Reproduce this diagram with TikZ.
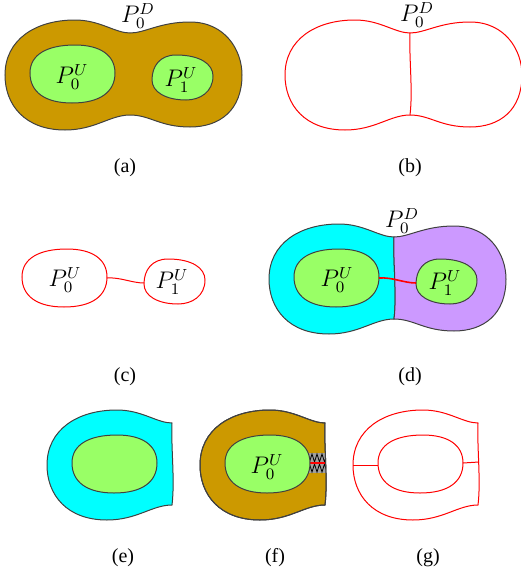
\documentclass[tikz,border=0pt]{standalone}
\usepackage{fontspec}
\setmainfont{Liberation Serif}
\usepackage{tikz}

\definecolor{brownfill}{RGB}{204,153,0}
\definecolor{greenfill}{RGB}{153,255,102}
\definecolor{cyanfill}{RGB}{0,255,255}
\definecolor{purplefill}{RGB}{204,153,255}
\definecolor{ladderfill}{RGB}{160,160,160}

% Kontur yolları (a) çerçevesinde, piksel biriminde
\newcommand{\blobpath}{(130,33) .. controls (145,33) and (160,22) .. (190,22)
  .. controls (225,22) and (242,50) .. (242,75)
  .. controls (242,110) and (220,127) .. (190,127)
  .. controls (160,127) and (150,115) .. (130,115)
  .. controls (110,115) and (95,130) .. (65,130)
  .. controls (25,130) and (5,105) .. (5,75)
  .. controls (5,40) and (35,20) .. (75,20)
  .. controls (100,20) and (115,33) .. (130,33) -- cycle}
\newcommand{\leftlobe}{(130,115)
  .. controls (110,115) and (95,130) .. (65,130)
  .. controls (25,130) and (5,105) .. (5,75)
  .. controls (5,40) and (35,20) .. (75,20)
  .. controls (100,20) and (115,33) .. (130,33)
  .. controls (129,60) and (133,90) .. (130,115) -- cycle}
\newcommand{\rightlobe}{(130,33) .. controls (145,33) and (160,22) .. (190,22)
  .. controls (225,22) and (242,50) .. (242,75)
  .. controls (242,110) and (220,127) .. (190,127)
  .. controls (160,127) and (150,115) .. (130,115)
  .. controls (133,90) and (129,60) .. (130,33) -- cycle}
\newcommand{\waistline}{(130,33) .. controls (129,60) and (133,90) .. (130,115)}
\newcommand{\ovalA}{(75,45) .. controls (100,45) and (115,55) .. (115,73)
  .. controls (115,92) and (100,103) .. (72,103)
  .. controls (45,103) and (30,92) .. (30,73)
  .. controls (30,54) and (48,45) .. (75,45) -- cycle}
\newcommand{\ovalB}{(176,55) .. controls (200,55) and (213,64) .. (213,76)
  .. controls (213,92) and (200,100) .. (186,100)
  .. controls (166,100) and (152,92) .. (152,80)
  .. controls (152,66) and (160,55) .. (176,55) -- cycle}

\begin{document}
\begin{tikzpicture}[x=0.5pt,y=-0.5pt,every node/.style={font=\normalsize},
    edge/.style={draw=black!75,line width=0.5pt},
    redline/.style={draw=red,line width=0.5pt},
    plabel/.style={font=\large,inner sep=1pt}]
  \useasboundingbox (0,0) rectangle (520,578);

  % (a) tüm bölge ve iki alt bölge
  \draw[edge,fill=brownfill] \blobpath;
  \draw[edge,fill=greenfill] \ovalA;
  \draw[edge,fill=greenfill] \ovalB;
  \node[plabel] (a-d) at (138,16) {$P_0^D$};
  \node[plabel] (a-u0) at (72,77) {$P_0^U$};
  \node[plabel] (a-u1) at (181,80) {$P_1^U$};

  % (b) kesilmiş sınır
  \begin{scope}[shift={(280,0)}]
    \draw[redline] \blobpath;
    \draw[redline] \waistline;
    \node[plabel] (b-d) at (137,15) {$P_0^D$};
  \end{scope}

  % (c) iki kontur ve aradaki bağ
  \begin{scope}[shift={(-8,204)}]
    \draw[redline] \ovalA;
    \draw[redline] \ovalB;
    \coordinate (c-e0) at (115,74);
    \coordinate (c-e1) at (152,79);
    \node[plabel] (c-u0) at (73,76) {$P_0^U$};
    \node[plabel] (c-u1) at (180,78) {$P_1^U$};
    \draw[redline] (c-e0) .. controls (128,73) and (140,79) .. (c-e1);
  \end{scope}

  % (d) iki parçaya bölünmüş bölge
  \begin{scope}[shift={(264,204)}]
    \draw[edge,fill=cyanfill] \leftlobe;
    \draw[edge,fill=purplefill] \rightlobe;
    \draw[edge,fill=greenfill] \ovalA;
    \draw[edge,fill=greenfill] \ovalB;
    \coordinate (d-e0) at (115,74);
    \coordinate (d-e1) at (152,79);
    \node[plabel] (d-d) at (138,17) {$P_0^D$};
    \node[plabel] (d-u0) at (73,76) {$P_0^U$};
    \node[plabel] (d-u1) at (181,79) {$P_1^U$};
    \draw[redline,line width=0.8pt] (d-e0) .. controls (128,73) and (140,79) .. (d-e1);
  \end{scope}

  % (e) sol parça
  \begin{scope}[shift={(42,390)}]
    \draw[edge,fill=cyanfill] \leftlobe;
    \draw[edge,fill=greenfill] \ovalA;
  \end{scope}

  % (f) merdiven ile açılmış parça
  \begin{scope}[shift={(195,390)}]
    \draw[edge,fill=brownfill] \leftlobe;
    \begin{scope}
      \clip \leftlobe;
      \fill[ladderfill] (108,63) rectangle (132,83);
      \draw[black,line width=0.4pt] (112,64)
        \foreach \i in {0,...,3} {-- ++(2.5,8) -- ++(2.5,-8)};
      \draw[black,line width=0.4pt] (112,82)
        \foreach \i in {0,...,3} {-- ++(2.5,-8) -- ++(2.5,8)};
      \draw[red,line width=0.7pt] (110,73) -- (132,73);
    \end{scope}
    \draw[edge] \leftlobe;
    \draw[edge,fill=greenfill] \ovalA;
    \node[plabel] (f-u0) at (72,77) {$P_0^U$};
  \end{scope}

  % (g) kesilmiş halka
  \begin{scope}[shift={(348,390)}]
    \draw[redline] \leftlobe;
    \draw[redline] \ovalA;
    \coordinate (g-o0) at (5,75);
    \coordinate (g-i0) at (30,75);
    \coordinate (g-i1) at (115,73);
    \coordinate (g-o1) at (131,72);
    \draw[redline] (g-o0) -- (g-i0);
    \draw[redline] (g-i1) -- (g-o1);
  \end{scope}

  % Alt yazılar
  \node (lbl-a) at (125,168) {(a)};
  \node (lbl-b) at (410,168) {(b)};
  \node (lbl-c) at (125,377) {(c)};
  \node (lbl-d) at (410,377) {(d)};
  \node (lbl-e) at (123,558) {(e)};
  \node (lbl-f) at (275,558) {(f)};
  \node (lbl-g) at (428,558) {(g)};
\end{tikzpicture}
\end{document}
